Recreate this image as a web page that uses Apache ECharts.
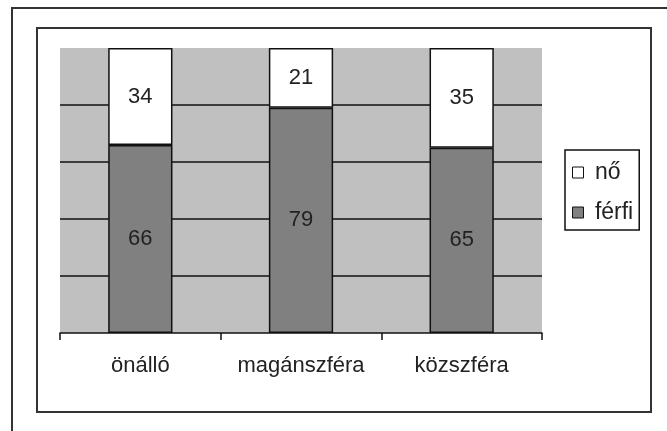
<!DOCTYPE html>
<html>
<head>
<meta charset="utf-8">
<script src="https://cdn.jsdelivr.net/npm/echarts@6/dist/echarts.min.js"></script>
<style>
html,body{margin:0;padding:0;background:#fff;}
#chart{width:667px;height:431px;}
</style>
</head>
<body>
<div id="chart"></div>
<script>
// kategóriák és értékek (százalék)
var categories = ['önálló', 'magánszféra', 'közszféra'];
var ferfiValues = [66, 79, 65];
var noValues = [34, 21, 35];
var yTicks = [0, 20, 40, 60, 80, 100];

var myChart = echarts.init(document.getElementById('chart'));
var font = 'Liberation Sans, Arial, sans-serif';

var option = {
	animation: false,
	backgroundColor: '#fff',
	textStyle: { fontFamily: font },
	graphic: [
		// külső keret (csak felső és bal oldal látszik)
		{ type: 'polyline', shape: { points: [[12, 431], [12, 8], [667, 8]] },
		  style: { stroke: '#333', lineWidth: 2, fill: null } },
		// belső keret
		{ type: 'rect', shape: { x: 37, y: 28, width: 614, height: 384 },
		  style: { stroke: '#333', lineWidth: 2, fill: null } }
	],
	grid: {
		left: 60, top: 48, width: 482, height: 285,
		show: true, backgroundColor: '#c0c0c0', borderWidth: 0
	},
	legend: {
		orient: 'vertical',
		left: 565, top: 150,
		data: ['nő', 'férfi'],
		formatter: function(name){ return ' ' + name; },
		itemWidth: 11, itemHeight: 11,
		itemGap: 17,
		padding: [11, 6, 6, 7],
		borderColor: '#111', borderWidth: 1.5,
		icon: 'rect',
		itemStyle: { borderColor: '#111', borderWidth: 1 },
		textStyle: { fontSize: 23, color: '#222', fontFamily: font }
	},
	xAxis: {
		type: 'category',
		data: categories,
		axisLine: { lineStyle: { color: '#111', width: 1.5 } },
		axisTick: { show: true, interval: 0, length: 7, lineStyle: { color: '#111', width: 1.5 } },
		axisLabel: { interval: 0, fontSize: 22, color: '#222', margin: 22, fontFamily: font },
		splitLine: { show: false }
	},
	yAxis: {
		type: 'value',
		min: yTicks[0], max: yTicks[yTicks.length - 1], interval: 20,
		axisLine: { show: false },
		axisTick: { show: false },
		axisLabel: { show: false },
		splitLine: { show: true, showMaxLine: false, showMinLine: false, lineStyle: { color: '#111', width: 1.5 } }
	},
	series: [
		{
			name: 'férfi', type: 'bar', stack: 'total',
			barWidth: '40%',
			data: ferfiValues,
			itemStyle: { color: '#808080', borderColor: '#111', borderWidth: 1.5 },
			label: { show: true, position: 'inside', fontSize: 22, color: '#222', fontFamily: font }
		},
		{
			name: 'nő', type: 'bar', stack: 'total',
			barWidth: '40%',
			data: noValues,
			itemStyle: { color: '#ffffff', borderColor: '#111', borderWidth: 1.5 },
			label: { show: true, position: 'inside', fontSize: 22, color: '#222', fontFamily: font }
		}
	]
};
myChart.setOption(option);
</script>
</body>
</html>
